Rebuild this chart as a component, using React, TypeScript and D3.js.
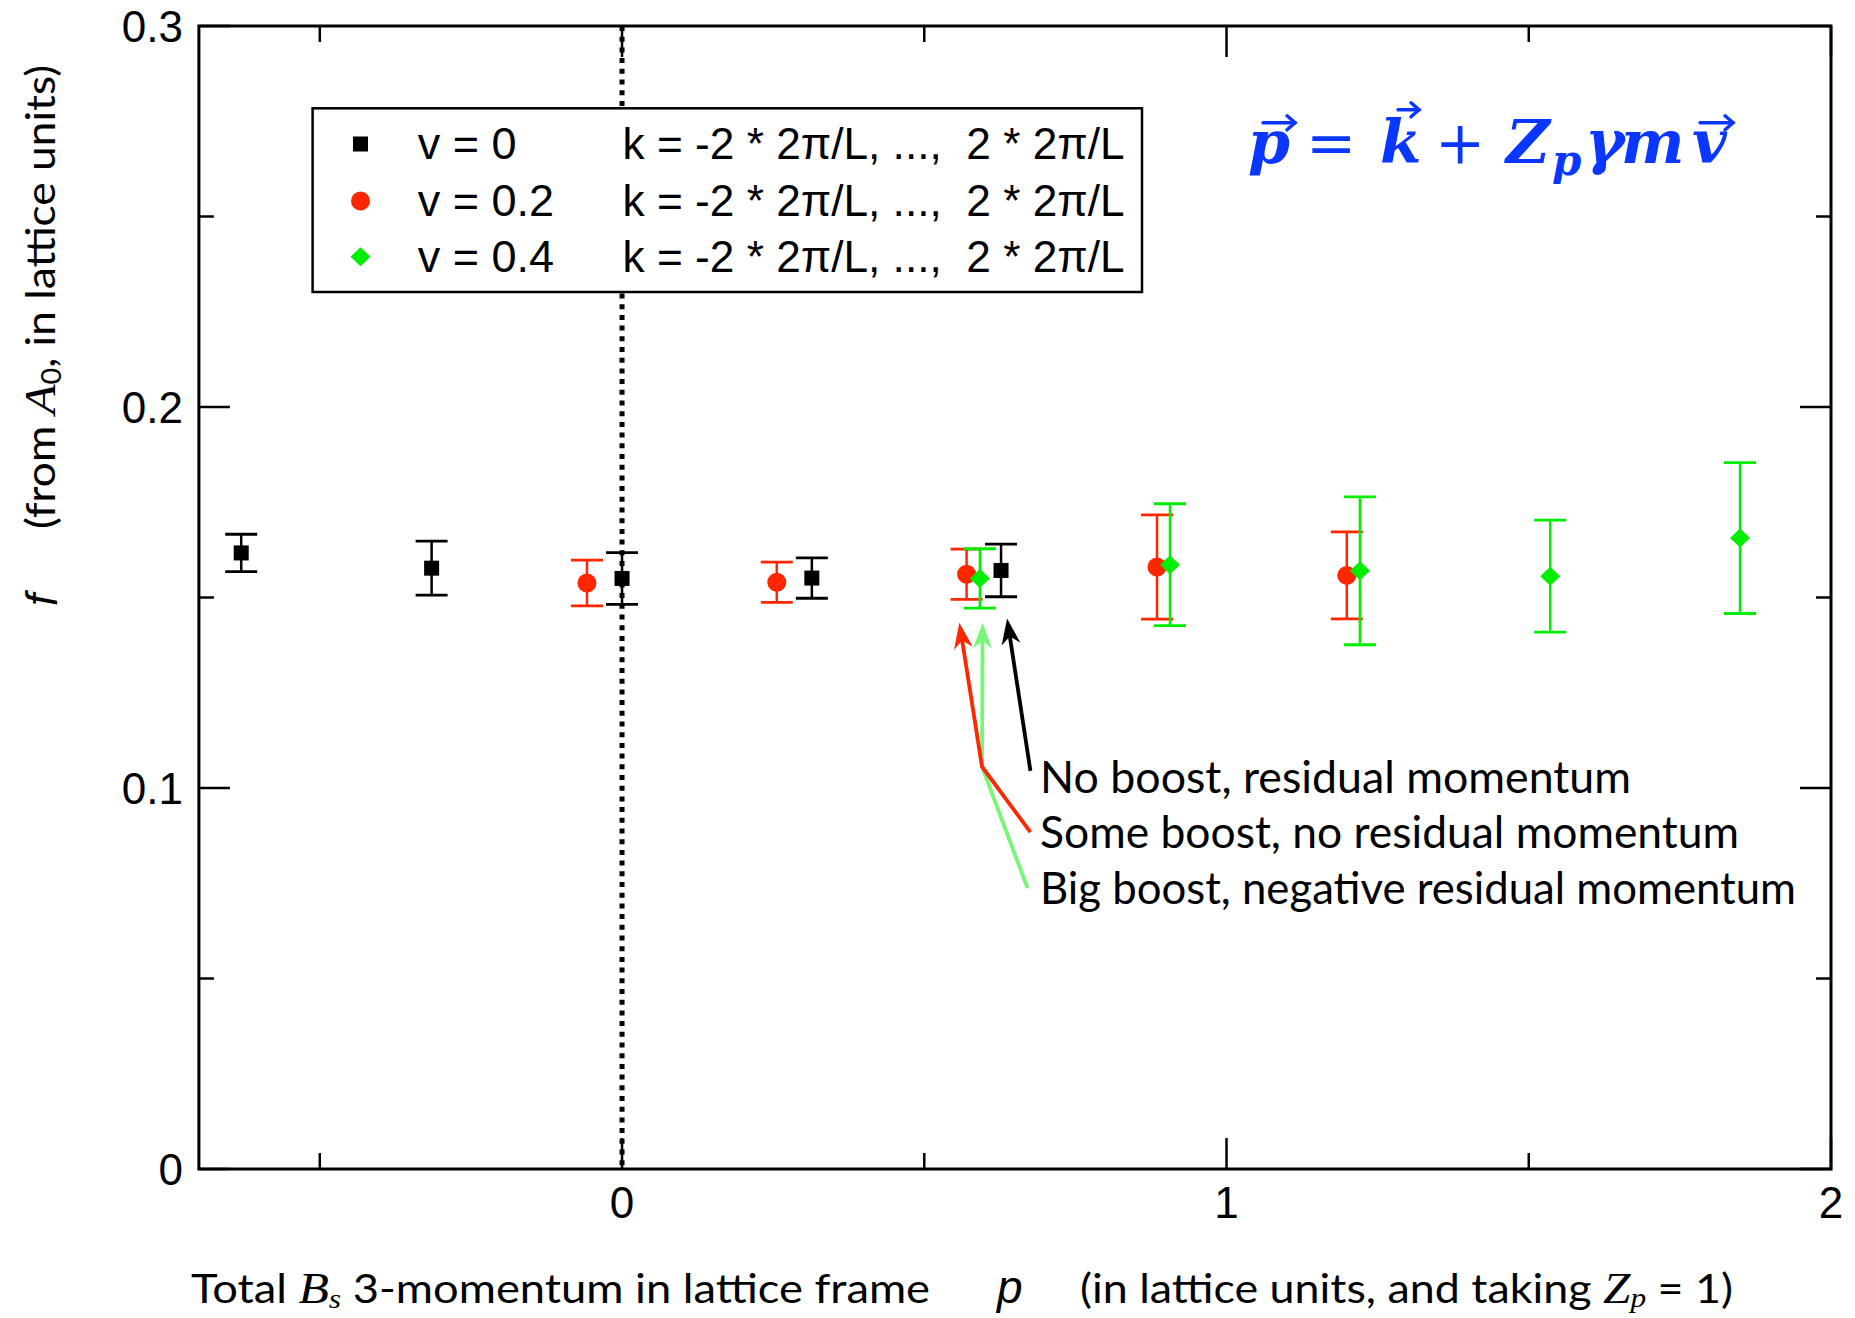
import React from 'react';
import * as d3 from 'd3';

const W = 1855;
const H = 1318;

// axes
const xDomain: [number, number] = [-0.7, 2];
const yDomain: [number, number] = [0, 0.3];
const xMajorTicks = [0, 1, 2];
const xMinorTicks = [-0.5, 0.5, 1.5];
const xTickLabels = ['0', '1', '2'];
const yMajorTicks = [0, 0.1, 0.2, 0.3];
const yMinorTicks = [0.05, 0.15, 0.25];
const yTickLabels = ['0', '0.1', '0.2', '0.3'];

// series v = 0 (black squares)
const v0P = [-0.63, -0.315, 0.0, 0.314, 0.627];
const v0F = [0.1617, 0.1577, 0.155, 0.1551, 0.1571];
const v0Err = [0.0049, 0.0071, 0.0068, 0.0053, 0.0069];

// series v = 0.2 (red circles)
const v02P = [-0.058, 0.256, 0.57, 0.885, 1.199];
const v02F = [0.1538, 0.154, 0.1561, 0.158, 0.1558];
const v02Err = [0.006, 0.0053, 0.0066, 0.0137, 0.0114];

// series v = 0.4 (green diamonds)
const v04P = [0.592, 0.9065, 1.2207, 1.5355, 1.8495];
const v04F = [0.155, 0.1586, 0.157, 0.1556, 0.1656];
const v04Err = [0.0078, 0.016, 0.0194, 0.0147, 0.0198];

const seriesNames = ['v = 0', 'v = 0.2', 'v = 0.4'];
const seriesRange = 'k = -2 * 2\u03C0/L, ...,  2 * 2\u03C0/L';

// annotations (data coordinates)
const noteTexts = [
  'No boost, residual momentum',
  'Some boost, no residual momentum',
  'Big boost, negative residual momentum',
];
const noteX = 0.6915;
const noteY = [0.0988, 0.0842, 0.0696];
const noteLen = [591, 699, 756];
const arrowBlack: [number, number][] = [[0.6756, 0.1045], [0.637, 0.1445]];
const arrowRed: [number, number][] = [[0.6756, 0.0884], [0.5955, 0.1056], [0.558, 0.1434]];
const arrowGreen: [number, number][] = [[0.6708, 0.0737], [0.5955, 0.1056], [0.5965, 0.1434]];

const BLACK = '#000000';
const RED = '#ff2600';
const GREEN = '#00ee00';
const LIGHTGREEN = '#77f777';
const BLUE = '#0a37ff';

const SANS = '"Liberation Sans", Arial, Helvetica, sans-serif';
const HUMAN = 'Lato, "Open Sans", sans-serif';
const SERIF = '"Liberation Serif", "Times New Roman", serif';
const MATHB = '"DejaVu Serif", serif';

const margin = { left: 198.9, right: 1831, top: 26, bottom: 1169 };

const x = d3.scaleLinear().domain(xDomain).range([margin.left, margin.right]);
const y = d3.scaleLinear().domain(yDomain).range([margin.bottom, margin.top]);

type Shape = 'square' | 'circle' | 'diamond';

function Marker({ cx, cy, shape, color }: { cx: number; cy: number; shape: Shape; color: string }) {
  if (shape === 'square') return <rect x={cx - 7.5} y={cy - 7.5} width={15} height={15} fill={color} />;
  if (shape === 'circle') return <ellipse cx={cx} cy={cy} rx={9.5} ry={9.5} fill={color} />;
  return (
    <path
      d={`M${cx},${cy - 9.5}L${cx + 10},${cy}L${cx},${cy + 9.5}L${cx - 10},${cy}Z`}
      fill={color}
    />
  );
}

function Series({ ps, fs, es, shape, color }: { ps: number[]; fs: number[]; es: number[]; shape: Shape; color: string }) {
  return (
    <g>
      {ps.map((p, i) => {
        const cx = x(p);
        const yt = y(fs[i] + es[i]);
        const yb = y(fs[i] - es[i]);
        return (
          <g key={i}>
            <line x1={cx} x2={cx} y1={yt} y2={yb} stroke={color} strokeWidth={2.5} />
            <line x1={cx - 16} x2={cx + 16} y1={yt} y2={yt} stroke={color} strokeWidth={2.8} />
            <line x1={cx - 16} x2={cx + 16} y1={yb} y2={yb} stroke={color} strokeWidth={2.8} />
            <Marker cx={cx} cy={y(fs[i])} shape={shape} color={color} />
          </g>
        );
      })}
    </g>
  );
}

function Arrow({ pts, color }: { pts: [number, number][]; color: string }) {
  const px = pts.map(([a, b]) => [x(a), y(b)] as [number, number]);
  const n = px.length;
  const [tx, ty] = px[n - 1];
  const [qx, qy] = px[n - 2];
  const dx = tx - qx;
  const dy = ty - qy;
  const len = Math.hypot(dx, dy);
  const ux = dx / len;
  const uy = dy / len;
  const hl = 26;
  const hw = 9.5;
  const bx = tx - ux * hl;
  const by = ty - uy * hl;
  const line = d3.line()(px.slice(0, n - 1).concat([[tx - ux * hl * 0.6, ty - uy * hl * 0.6]]));
  return (
    <g>
      <path d={line || ''} fill="none" stroke={color} strokeWidth={3.8} strokeLinejoin="miter" />
      <path
        d={`M${tx},${ty}L${bx - uy * hw},${by + ux * hw}L${tx - ux * hl * 0.7},${ty - uy * hl * 0.7}L${bx + uy * hw},${by - ux * hw}Z`}
        fill={color}
      />
    </g>
  );
}

// formula pieces (offsets in px from formula anchor)
const formulaAnchor: [number, number] = [1.0356, 0.2641];
const formulaGlyphs = [
  { t: 'p', dx: 0, dy: 0, size: 60, math: true },
  { t: '=', dx: 58, dy: 0, size: 60, math: false },
  { t: 'k', dx: 132, dy: 0, size: 60, math: true },
  { t: '+', dx: 187, dy: 0, size: 60, math: false },
  { t: 'Z', dx: 258, dy: 0, size: 60, math: true },
  { t: 'p', dx: 304, dy: 12, size: 42, math: true },
  { t: '\u03B3', dx: 337, dy: 0, size: 60, math: true },
  { t: 'm', dx: 373, dy: 0, size: 60, math: true },
  { t: 'v', dx: 444, dy: 0, size: 60, math: true },
];
const formulaArrows = [
  { x1: 15, x2: 47, dy: -40 },
  { x1: 150, x2: 171, dy: -53 },
  { x1: 452, x2: 485, dy: -40 },
];

export default function App() {
  const fx = x(formulaAnchor[0]);
  const fy = y(formulaAnchor[1]);
  const legendX = 312.6;
  const legendY = 108.3;
  const legendW = 829.4;
  const legendH = 183.7;
  const rowY = [144, 201, 256.7];
  const labelBase = 1303;
  return (
    <svg
      width={W}
      height={H}
      viewBox={`0 0 ${W} ${H}`}
      style={{ position: 'absolute', left: 0, top: 0, background: '#fff' }}
    >
      <rect x={0} y={0} width={W} height={H} fill="#fff" />

      {/* dotted zero line */}
      <line
        x1={x(0)}
        x2={x(0)}
        y1={y(yDomain[1])}
        y2={y(yDomain[0])}
        stroke="#000"
        strokeWidth={5}
        strokeDasharray="5 5.7"
      />

      {/* ticks */}
      <g stroke="#000" strokeWidth={2.5}>
        {yMajorTicks.map((t) => (
          <g key={'ym' + t}>
            <line x1={margin.left} x2={margin.left + 31} y1={y(t)} y2={y(t)} />
            <line x1={margin.right} x2={margin.right - 31} y1={y(t)} y2={y(t)} />
          </g>
        ))}
        {yMinorTicks.map((t) => (
          <g key={'yn' + t}>
            <line x1={margin.left} x2={margin.left + 15} y1={y(t)} y2={y(t)} />
            <line x1={margin.right} x2={margin.right - 15} y1={y(t)} y2={y(t)} />
          </g>
        ))}
        {xMajorTicks.map((t) => (
          <g key={'xm' + t}>
            <line x1={x(t)} x2={x(t)} y1={margin.bottom} y2={margin.bottom - 31} />
            <line x1={x(t)} x2={x(t)} y1={margin.top} y2={margin.top + 31} />
          </g>
        ))}
        {xMinorTicks.map((t) => (
          <g key={'xn' + t}>
            <line x1={x(t)} x2={x(t)} y1={margin.bottom} y2={margin.bottom - 16} />
            <line x1={x(t)} x2={x(t)} y1={margin.top} y2={margin.top + 16} />
          </g>
        ))}
      </g>

      {/* tick labels */}
      <g fontFamily={SANS} fontSize={44} fill="#000">
        {yMajorTicks.map((t, i) => (
          <text key={'yl' + t} x={183} y={y(t) + 16} textAnchor="end">
            {yTickLabels[i]}
          </text>
        ))}
        {xMajorTicks.map((t, i) => (
          <text key={'xl' + t} x={x(t)} y={1218} textAnchor="middle">
            {xTickLabels[i]}
          </text>
        ))}
      </g>

      {/* legend */}
      <rect x={legendX} y={legendY} width={legendW} height={legendH} fill="#fff" stroke="#000" strokeWidth={2.5} />
      <g fontFamily={SANS} fontSize={45} fill="#000">
        {seriesNames.map((name, i) => (
          <g key={name}>
            <Marker
              cx={360.5}
              cy={rowY[i]}
              shape={(['square', 'circle', 'diamond'] as Shape[])[i]}
              color={[BLACK, RED, GREEN][i]}
            />
            <text x={417.7} y={rowY[i] + 15}>{name}</text>
            <text x={622.6} y={rowY[i] + 15} style={{ whiteSpace: 'pre' }} textLength={502} lengthAdjust="spacingAndGlyphs">
              {seriesRange}
            </text>
          </g>
        ))}
      </g>

      {/* data */}
      <Series ps={v0P} fs={v0F} es={v0Err} shape="square" color={BLACK} />
      <Series ps={v02P} fs={v02F} es={v02Err} shape="circle" color={RED} />
      <Series ps={v04P} fs={v04F} es={v04Err} shape="diamond" color={GREEN} />

      {/* frame */}
      <rect
        x={margin.left}
        y={margin.top}
        width={margin.right - margin.left}
        height={margin.bottom - margin.top}
        fill="none"
        stroke="#000"
        strokeWidth={3}
      />

      {/* annotation arrows */}
      <Arrow pts={arrowGreen} color={LIGHTGREEN} />
      <Arrow pts={arrowRed} color={RED} />
      <Arrow pts={arrowBlack} color={BLACK} />
      <g fontFamily={HUMAN} fontSize={44} fill="#000">
        {noteTexts.map((t, i) => (
          <text key={t} x={x(noteX)} y={y(noteY[i])} textLength={noteLen[i]} lengthAdjust="spacingAndGlyphs">
            {t}
          </text>
        ))}
      </g>

      {/* formula */}
      <g fill={BLUE}>
        {formulaGlyphs.map((g, i) => (
          <text
            key={i}
            x={fx + g.dx}
            y={fy + g.dy}
            fontFamily={MATHB}
            fontSize={g.size}
            fontStyle={g.math ? 'italic' : 'normal'}
            fontWeight={g.math ? 'bold' : 'normal'}
          >
            {g.t}
          </text>
        ))}
        {formulaArrows.map((a, i) => (
          <g key={'fa' + i} stroke={BLUE} strokeWidth={3.5} fill="none" strokeLinecap="round">
            <line x1={fx + a.x1} x2={fx + a.x2} y1={fy + a.dy} y2={fy + a.dy} />
            <path d={`M${fx + a.x2 - 8},${fy + a.dy - 7}L${fx + a.x2},${fy + a.dy}L${fx + a.x2 - 8},${fy + a.dy + 7}`} />
          </g>
        ))}
      </g>

      {/* y axis label */}
      <text transform="translate(57,606) rotate(-90)" fontFamily={SANS} fontStyle="italic" fontSize={44} fill="#000">
        f
      </text>
      <text
        transform="translate(55,529) rotate(-90)"
        fontFamily={HUMAN}
        fontSize={40}
        fill="#000"
        textLength={464}
        lengthAdjust="spacingAndGlyphs"
      >
        (from{' '}
        <tspan fontFamily={SERIF} fontStyle="italic" fontSize={44}>A</tspan>
        <tspan fontSize={26} dy={6}>0</tspan>
        <tspan dy={-6}>, in lattice units)</tspan>
      </text>

      {/* x axis label */}
      <text
        x={191}
        y={labelBase}
        fontFamily={HUMAN}
        fontSize={40}
        fill="#000"
        textLength={739}
        lengthAdjust="spacingAndGlyphs"
      >
        Total{' '}
        <tspan fontFamily={SERIF} fontStyle="italic" fontSize={44}>B</tspan>
        <tspan fontFamily={SERIF} fontStyle="italic" fontSize={28} dy={5}>s</tspan>
        <tspan dy={-5}> 3-momentum in lattice frame</tspan>
      </text>
      <text x={997} y={labelBase} fontFamily={SANS} fontStyle="italic" fontSize={46} fill="#000">
        p
      </text>
      <text
        x={1080}
        y={labelBase}
        fontFamily={HUMAN}
        fontSize={40}
        fill="#000"
        textLength={653}
        lengthAdjust="spacingAndGlyphs"
      >
        (in lattice units, and taking{' '}
        <tspan fontFamily={SERIF} fontStyle="italic" fontSize={44}>Z</tspan>
        <tspan fontFamily={SERIF} fontStyle="italic" fontSize={28} dy={4}>p</tspan>
        <tspan dy={-4}> = 1)</tspan>
      </text>
    </svg>
  );
}
